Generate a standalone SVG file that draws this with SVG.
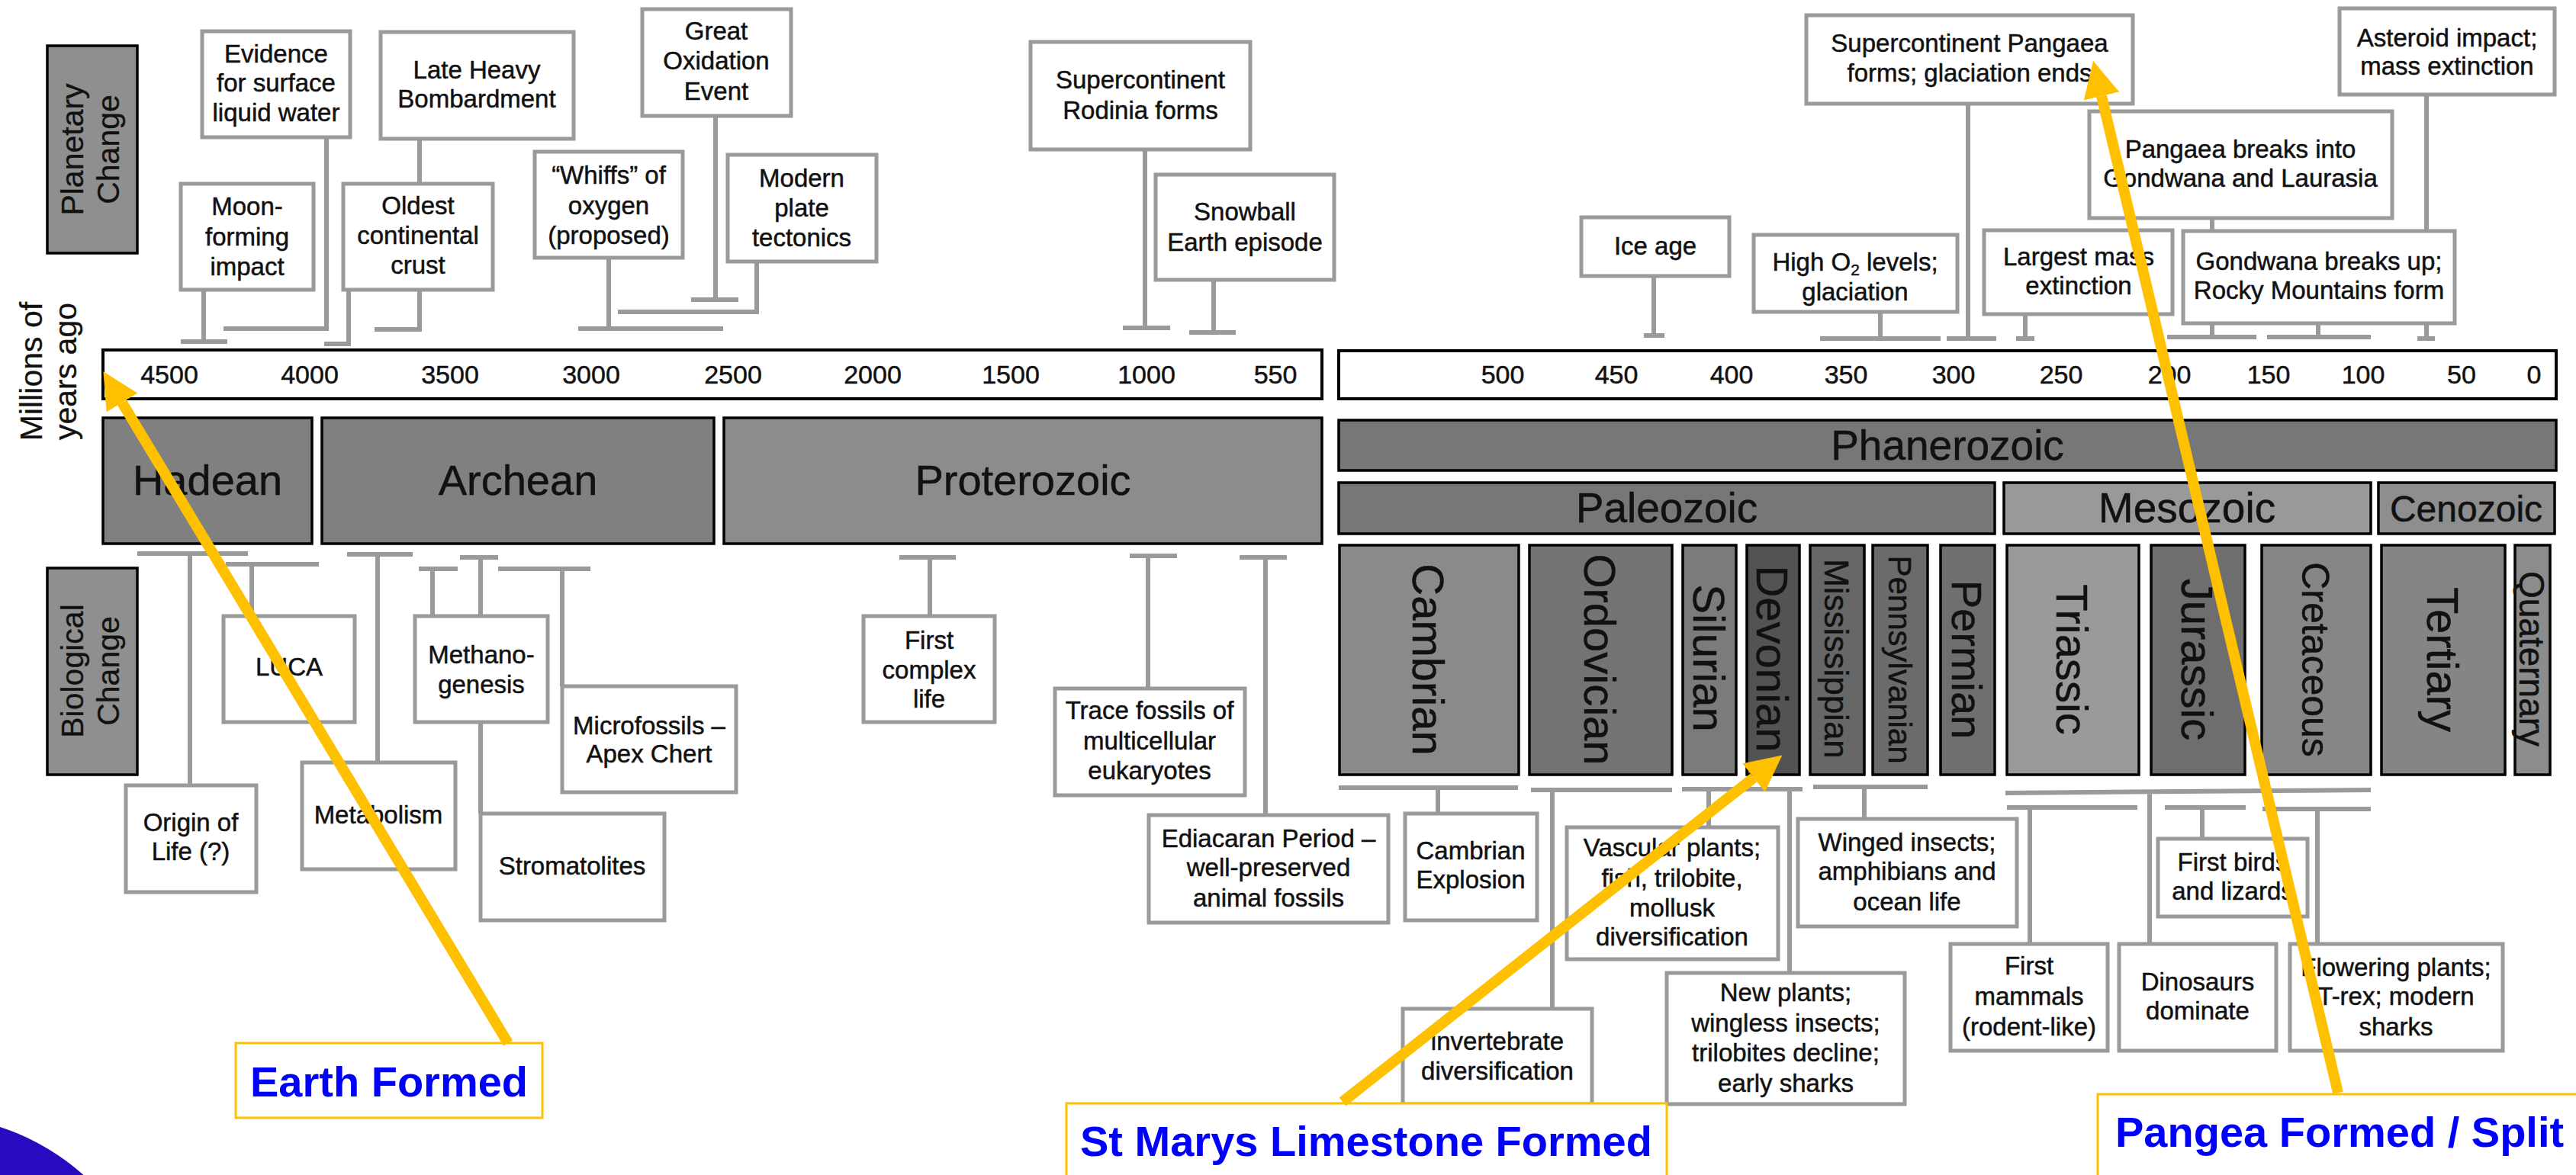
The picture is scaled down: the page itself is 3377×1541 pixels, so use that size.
<svg xmlns="http://www.w3.org/2000/svg" width="3377" height="1541" viewBox="0 0 3377 1541">
<defs>
<style>
text{font-family:"Liberation Sans",Arial,Helvetica,sans-serif;fill:#111;stroke:#111;stroke-width:0.5}
.ev rect{fill:#fff;stroke:#9a9a9a;stroke-width:5}
.ev text{font-size:33px;text-anchor:middle}
.cn path{fill:none;stroke:#9a9a9a;stroke-width:6}
.dk{stroke:#000;stroke-width:3.5}
.ax{fill:#fff;stroke:#000;stroke-width:4}
.tk{font-size:34px;text-anchor:middle}
.eon{font-size:56px;text-anchor:middle}
.per{text-anchor:middle}
.side{font-size:41px;text-anchor:middle;stroke-width:0.3}
.ann rect{fill:#fff;stroke:#FFC000;stroke-width:3}
.ann text{font-weight:bold;font-size:56px;fill:#0000ff;stroke:none}
.arr{stroke:#FFC000;stroke-width:14;fill:none;marker-end:url(#ah)}
</style>
<marker id="ah" viewBox="0 0 10 10" refX="0" refY="5" markerWidth="3.4" markerHeight="3.5" orient="auto" markerUnits="strokeWidth"><path d="M0,0 L10,5 L0,10 z" fill="#FFC000"/></marker>
</defs>
<rect width="3377" height="1541" fill="#fff"/>
<circle cx="-95" cy="1770" r="307" fill="#2a0ac0"/>

<!-- side labels -->
<g id="label-planetary">
<rect x="62" y="60" width="118" height="272" fill="#8f8f8f" class="dk"/>
<text class="side" transform="translate(109,196) rotate(-90)"><tspan x="0" y="0">Planetary</tspan><tspan x="0" y="47">Change</tspan></text>
</g>
<g id="label-millions">
<text class="side" transform="translate(55,487) rotate(-90)"><tspan x="0" y="0">Millions of</tspan><tspan x="0" y="45">years ago</tspan></text>
</g>
<g id="label-biological">
<rect x="62" y="745" width="118" height="271" fill="#8f8f8f" class="dk"/>
<text class="side" transform="translate(109,880) rotate(-90)"><tspan x="0" y="0">Biological</tspan><tspan x="0" y="47">Change</tspan></text>
</g>

<!-- axis -->
<g id="axis-precambrian">
<rect class="ax" x="135" y="459" width="1598" height="64"/>
<text class="tk" y="503"><tspan x="222">4500</tspan><tspan x="406">4000</tspan><tspan x="590">3500</tspan><tspan x="775">3000</tspan><tspan x="961">2500</tspan><tspan x="1144">2000</tspan><tspan x="1325">1500</tspan><tspan x="1503">1000</tspan><tspan x="1672">550</tspan></text>
</g>
<g id="axis-phanerozoic">
<rect class="ax" x="1755" y="460" width="1596" height="63"/>
<text class="tk" y="503"><tspan x="1970">500</tspan><tspan x="2119">450</tspan><tspan x="2270">400</tspan><tspan x="2420">350</tspan><tspan x="2561">300</tspan><tspan x="2702">250</tspan><tspan x="2844">200</tspan><tspan x="2974">150</tspan><tspan x="3098">100</tspan><tspan x="3227">50</tspan><tspan x="3322">0</tspan></text>
</g>

<!-- eons / eras -->
<g id="eon-hadean"><rect class="dk" x="135" y="548" width="274" height="165" fill="#808080"/><text class="eon" x="272" y="649">Hadean</text></g>
<g id="eon-archean"><rect class="dk" x="422" y="548" width="514" height="165" fill="#808080"/><text class="eon" x="679" y="649">Archean</text></g>
<g id="eon-proterozoic"><rect class="dk" x="949" y="548" width="784" height="165" fill="#8c8c8c"/><text class="eon" x="1341" y="649">Proterozoic</text></g>
<g id="eon-phanerozoic"><rect class="dk" x="1755" y="551" width="1596" height="66" fill="#777"/><text class="eon" x="2553" y="603" style="font-size:55px">Phanerozoic</text></g>
<g id="era-paleozoic"><rect class="dk" x="1755" y="633" width="860" height="67" fill="#777"/><text class="eon" x="2185" y="685" style="font-size:55px">Paleozoic</text></g>
<g id="era-mesozoic"><rect class="dk" x="2627" y="633" width="481" height="67" fill="#999"/><text class="eon" x="2867" y="685" style="font-size:55px">Mesozoic</text></g>
<g id="era-cenozoic"><rect class="dk" x="3118" y="633" width="231" height="67" fill="#8e8e8e"/><text class="eon" x="3233" y="684" style="font-size:48px">Cenozoic</text></g>

<!-- periods -->
<g id="per-cambrian"><rect class="dk" x="1756" y="715" width="235" height="301" fill="#8a8a8a"/><text class="per" font-size="58" transform="translate(1873,865) rotate(90)" dy="0.36em">Cambrian</text></g>
<g id="per-ordovician"><rect class="dk" x="2005" y="715" width="187" height="301" fill="#747474"/><text class="per" font-size="58" transform="translate(2098,865) rotate(90)" dy="0.36em">Ordovician</text></g>
<g id="per-silurian"><rect class="dk" x="2206" y="715" width="70" height="301" fill="#7b7b7b"/><text class="per" font-size="58" transform="translate(2241,863) rotate(90)" dy="0.36em">Silurian</text></g>
<g id="per-devonian"><rect class="dk" x="2290" y="715" width="69" height="301" fill="#535353"/><text class="per" font-size="58" transform="translate(2324,864) rotate(90)" dy="0.36em">Devonian</text></g>
<g id="per-mississippian"><rect class="dk" x="2373" y="715" width="71" height="301" fill="#676767"/><text class="per" font-size="44" transform="translate(2408,864) rotate(90)" dy="0.36em">Mississippian</text></g>
<g id="per-pennsylvanian"><rect class="dk" x="2455" y="715" width="72" height="301" fill="#6b6b6b"/><text class="per" font-size="42" transform="translate(2491,865) rotate(90)" dy="0.36em">Pennsylvanian</text></g>
<g id="per-permian"><rect class="dk" x="2544" y="715" width="71" height="301" fill="#6f6f6f"/><text class="per" font-size="56" transform="translate(2579,865) rotate(90)" dy="0.36em">Permian</text></g>
<g id="per-triassic"><rect class="dk" x="2631" y="715" width="173" height="301" fill="#9a9a9a"/><text class="per" font-size="58" transform="translate(2717,865) rotate(90)" dy="0.36em">Triassic</text></g>
<g id="per-jurassic"><rect class="dk" x="2820" y="715" width="123" height="301" fill="#6e6e6e"/><text class="per" font-size="58" transform="translate(2881,865) rotate(90)" dy="0.36em">Jurassic</text></g>
<g id="per-cretaceous"><rect class="dk" x="2965" y="715" width="143" height="301" fill="#868686"/><text class="per" font-size="50" transform="translate(3036,865) rotate(90)" dy="0.36em">Cretaceous</text></g>
<g id="per-tertiary"><rect class="dk" x="3122" y="715" width="162" height="301" fill="#858585"/><text class="per" font-size="58" transform="translate(3203,865) rotate(90)" dy="0.36em">Tertiary</text></g>
<g id="per-quaternary"><rect class="dk" x="3297" y="715" width="46" height="301" fill="#8c8c8c"/><text class="per" font-size="46" transform="translate(3320,864) rotate(90)" dy="0.36em">Quaternary</text></g>

<!-- connectors -->
<g id="connectors" class="cn">
<path d="M428,180 V431 H293"/>
<path d="M267,380 V448 M237,448 H298"/>
<path d="M550,182 V432 M491,432 H553"/>
<path d="M457,380 V451 H425"/>
<path d="M798,338 V431 M758,431 H948"/>
<path d="M938,152 V393 M906,393 H968"/>
<path d="M992,343 V409 H810"/>
<path d="M1501,196 V430 M1472,430 H1534"/>
<path d="M1591,367 V436 M1559,436 H1620"/>
<path d="M2168,362 V440 M2155,440 H2182"/>
<path d="M2465,409 V444 M2386,444 H2544"/>
<path d="M2580,136 V444 M2552,444 H2617"/>
<path d="M2655,412 V444 M2643,444 H2667"/>
<path d="M2900,286 V442 M2841,442 H2958"/>
<path d="M3039,424 V442 M2972,442 H3108"/>
<path d="M3181,124 V444 M3169,444 H3192"/>
<path d="M249,726 V1030 M180,726 H325"/>
<path d="M330,740 V808 M296,740 H418"/>
<path d="M495,727 V1000 M455,727 H541"/>
<path d="M567,746 V808 M549,746 H600"/>
<path d="M630,731 V1067 M603,731 H653"/>
<path d="M737,746 V900 M653,746 H774"/>
<path d="M1219,731 V808 M1179,731 H1253"/>
<path d="M1505,729 V903 M1481,729 H1543"/>
<path d="M1659,731 V1069 M1625,731 H1687"/>
<path d="M1885,1033 V1067 M1755,1033 H1990"/>
<path d="M2035,1036 V1323 M2007,1036 H2192"/>
<path d="M2240,1035 V1085 M2346,1035 V1276 M2205,1035 H2363"/>
<path d="M2444,1032 V1074 M2377,1032 H2527"/>
<path d="M2629,1040 L3108,1036 M2818,1038 V1238"/>
<path d="M2661,1059 V1238 M2631,1059 H2802"/>
<path d="M2887,1059 V1100 M2838,1059 H2944"/>
<path d="M3038,1061 V1238 M2966,1061 H3108"/>
</g>

<!-- planetary events -->
<g id="ev-water" class="ev"><rect x="265" y="41" width="194" height="139"/><text><tspan x="362" y="82">Evidence</tspan><tspan x="362" y="120">for surface</tspan><tspan x="362" y="159">liquid water</tspan></text></g>
<g id="ev-moon" class="ev"><rect x="237" y="241" width="174" height="139"/><text><tspan x="324" y="282">Moon-</tspan><tspan x="324" y="322">forming</tspan><tspan x="324" y="361">impact</tspan></text></g>
<g id="ev-lhb" class="ev"><rect x="499" y="42" width="253" height="140"/><text><tspan x="625" y="103">Late Heavy</tspan><tspan x="625" y="141">Bombardment</tspan></text></g>
<g id="ev-crust" class="ev"><rect x="450" y="241" width="196" height="139"/><text><tspan x="548" y="281">Oldest</tspan><tspan x="548" y="320">continental</tspan><tspan x="548" y="359">crust</tspan></text></g>
<g id="ev-whiffs" class="ev"><rect x="701" y="199" width="194" height="139"/><text><tspan x="798" y="241">“Whiffs” of</tspan><tspan x="798" y="281">oxygen</tspan><tspan x="798" y="320">(proposed)</tspan></text></g>
<g id="ev-goe" class="ev"><rect x="842" y="12" width="195" height="140"/><text><tspan x="939" y="52">Great</tspan><tspan x="939" y="91">Oxidation</tspan><tspan x="939" y="131">Event</tspan></text></g>
<g id="ev-plate" class="ev"><rect x="954" y="203" width="195" height="140"/><text><tspan x="1051" y="245">Modern</tspan><tspan x="1051" y="284">plate</tspan><tspan x="1051" y="323">tectonics</tspan></text></g>
<g id="ev-rodinia" class="ev"><rect x="1351" y="55" width="288" height="141"/><text><tspan x="1495" y="116">Supercontinent</tspan><tspan x="1495" y="156">Rodinia forms</tspan></text></g>
<g id="ev-snowball" class="ev"><rect x="1515" y="229" width="234" height="138"/><text><tspan x="1632" y="289">Snowball</tspan><tspan x="1632" y="329">Earth episode</tspan></text></g>
<g id="ev-iceage" class="ev"><rect x="2073" y="285" width="194" height="77"/><text x="2170" y="334">Ice age</text></g>
<g id="ev-higho2" class="ev"><rect x="2299" y="308" width="267" height="101"/><text x="2432" y="355">High O<tspan dy="6" font-size="21">2</tspan><tspan dy="-6"> levels;</tspan></text><text x="2432" y="394">glaciation</text></g>
<g id="ev-pangaea" class="ev"><rect x="2368" y="20" width="428" height="116"/><text><tspan x="2582" y="68">Supercontinent Pangaea</tspan><tspan x="2582" y="107">forms; glaciation ends</tspan></text></g>
<g id="ev-extinction" class="ev"><rect x="2601" y="302" width="247" height="110"/><text><tspan x="2725" y="348">Largest mass</tspan><tspan x="2725" y="386">extinction</tspan></text></g>
<g id="ev-breakup" class="ev"><rect x="2739" y="146" width="397" height="140"/><text><tspan x="2937" y="207">Pangaea breaks into</tspan><tspan x="2937" y="245">Gondwana and Laurasia</tspan></text></g>
<g id="ev-gondwana" class="ev"><rect x="2862" y="303" width="356" height="121"/><text><tspan x="3040" y="354">Gondwana breaks up;</tspan><tspan x="3040" y="392">Rocky Mountains form</tspan></text></g>
<g id="ev-asteroid" class="ev"><rect x="3067" y="11" width="282" height="113"/><text><tspan x="3208" y="61">Asteroid impact;</tspan><tspan x="3208" y="98">mass extinction</tspan></text></g>

<!-- biological events -->
<g id="bio-origin" class="ev"><rect x="165" y="1030" width="171" height="140"/><text><tspan x="250" y="1090">Origin of</tspan><tspan x="250" y="1128">Life (?)</tspan></text></g>
<g id="bio-luca" class="ev"><rect x="293" y="808" width="172" height="139"/><text x="379" y="886">LUCA</text></g>
<g id="bio-metabolism" class="ev"><rect x="396" y="1000" width="201" height="140"/><text x="496" y="1080">Metabolism</text></g>
<g id="bio-methano" class="ev"><rect x="544" y="808" width="174" height="139"/><text><tspan x="631" y="870">Methano-</tspan><tspan x="631" y="909">genesis</tspan></text></g>
<g id="bio-stromatolites" class="ev"><rect x="630" y="1067" width="241" height="140"/><text x="750" y="1147">Stromatolites</text></g>
<g id="bio-microfossils" class="ev"><rect x="737" y="900" width="228" height="139"/><text><tspan x="851" y="963">Microfossils –</tspan><tspan x="851" y="1000">Apex Chert</tspan></text></g>
<g id="bio-complex" class="ev"><rect x="1132" y="808" width="172" height="139"/><text><tspan x="1218" y="851">First</tspan><tspan x="1218" y="890">complex</tspan><tspan x="1218" y="928">life</tspan></text></g>
<g id="bio-trace" class="ev"><rect x="1383" y="903" width="249" height="140"/><text><tspan x="1507" y="943">Trace fossils of</tspan><tspan x="1507" y="983">multicellular</tspan><tspan x="1507" y="1022">eukaryotes</tspan></text></g>
<g id="bio-ediacaran" class="ev"><rect x="1506" y="1069" width="314" height="141"/><text><tspan x="1663" y="1111">Ediacaran Period –</tspan><tspan x="1663" y="1149">well-preserved</tspan><tspan x="1663" y="1189">animal fossils</tspan></text></g>
<g id="bio-explosion" class="ev"><rect x="1842" y="1067" width="173" height="140"/><text><tspan x="1928" y="1127">Cambrian</tspan><tspan x="1928" y="1165">Explosion</tspan></text></g>
<g id="bio-invertebrate" class="ev"><rect x="1839" y="1323" width="248" height="125"/><text><tspan x="1963" y="1377">invertebrate</tspan><tspan x="1963" y="1416">diversification</tspan></text></g>
<g id="bio-vascular" class="ev"><rect x="2054" y="1085" width="277" height="173"/><text><tspan x="2192" y="1123">Vascular plants;</tspan><tspan x="2192" y="1163">fish, trilobite,</tspan><tspan x="2192" y="1202">mollusk</tspan><tspan x="2192" y="1240">diversification</tspan></text></g>
<g id="bio-newplants" class="ev"><rect x="2185" y="1276" width="312" height="172"/><text><tspan x="2341" y="1313">New plants;</tspan><tspan x="2341" y="1353">wingless insects;</tspan><tspan x="2341" y="1392">trilobites decline;</tspan><tspan x="2341" y="1432">early sharks</tspan></text></g>
<g id="bio-winged" class="ev"><rect x="2357" y="1074" width="287" height="141"/><text><tspan x="2500" y="1116">Winged insects;</tspan><tspan x="2500" y="1154">amphibians and</tspan><tspan x="2500" y="1194">ocean life</tspan></text></g>
<g id="bio-birds" class="ev"><rect x="2829" y="1100" width="196" height="102"/><text><tspan x="2927" y="1142">First birds</tspan><tspan x="2927" y="1180">and lizards</tspan></text></g>
<g id="bio-mammals" class="ev"><rect x="2557" y="1238" width="206" height="140"/><text><tspan x="2660" y="1278">First</tspan><tspan x="2660" y="1318">mammals</tspan><tspan x="2660" y="1358">(rodent-like)</tspan></text></g>
<g id="bio-dinosaurs" class="ev"><rect x="2778" y="1238" width="206" height="140"/><text><tspan x="2881" y="1299">Dinosaurs</tspan><tspan x="2881" y="1337">dominate</tspan></text></g>
<g id="bio-flowering" class="ev"><rect x="3002" y="1238" width="279" height="140"/><text><tspan x="3141" y="1280">Flowering plants;</tspan><tspan x="3141" y="1318">T-rex; modern</tspan><tspan x="3141" y="1358">sharks</tspan></text></g>

<!-- annotations -->
<g id="ann-earth" class="ann"><rect x="309" y="1368" width="402" height="98"/><text x="510" y="1438" text-anchor="middle">Earth Formed</text></g>
<g id="ann-stmarys" class="ann"><rect x="1398" y="1447" width="787" height="110"/><text x="1791" y="1516" text-anchor="middle">St Marys Limestone Formed</text></g>
<g id="ann-pangea" class="ann"><rect x="2750" y="1435" width="640" height="120"/><text x="2773" y="1504">Pangea Formed / Split</text></g>
<g id="ann-arrows">
<path class="arr" d="M666,1368 L160,528"/>
<path class="arr" d="M1760,1445 L2299,1020"/>
<path class="arr" d="M3065,1433 L2755,126"/>
</g>
</svg>
